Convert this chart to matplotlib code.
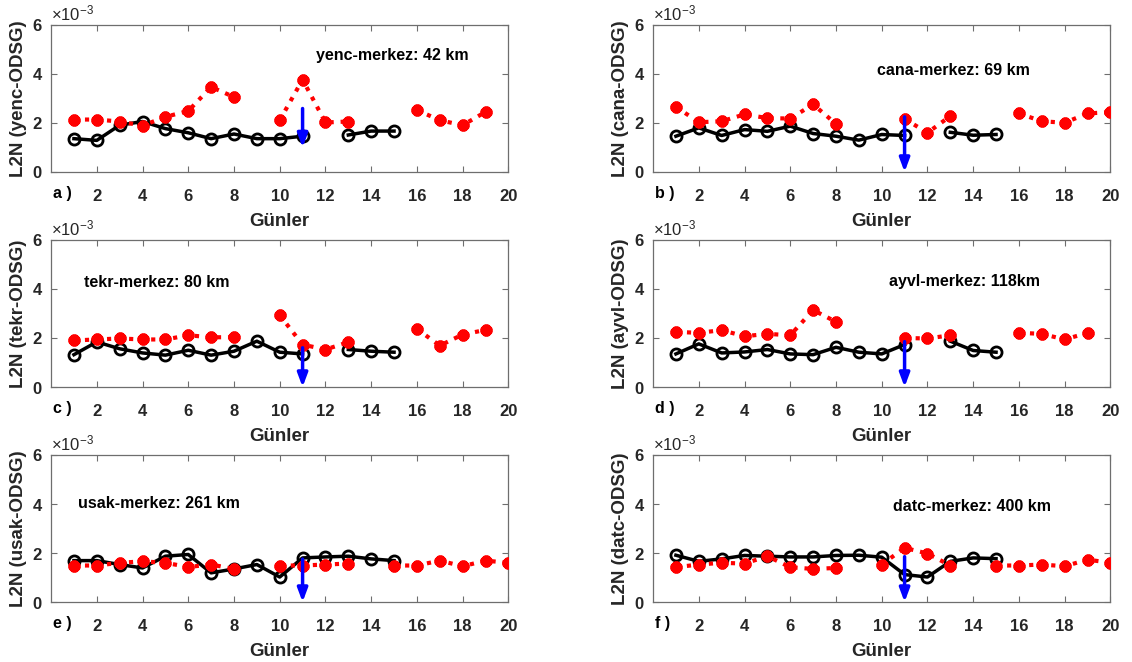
import numpy as np
import matplotlib
matplotlib.use('Agg')
import matplotlib.pyplot as plt
from matplotlib.ticker import ScalarFormatter

plt.rcParams['font.family'] = ['Liberation Sans', 'DejaVu Sans']
plt.rcParams['mathtext.default'] = 'regular'

nan = np.nan
SCALE = 1e-3  # values below are read in units of 1e-3

days = list(range(1, 21))

black_a = [1.36, 1.29, 1.91, 2.06, 1.77, 1.60, 1.36, 1.55, 1.36, 1.36, 1.46, nan, 1.51, 1.67, 1.67, nan, nan, nan, nan, nan]
red_a = [2.14, 2.14, 2.06, 1.89, 2.25, 2.49, 3.47, 3.06, nan, 2.11, 3.77, 2.02, 2.06, nan, nan, 2.53, 2.11, 1.91, 2.45, nan]
black_b = [1.46, 1.80, 1.49, 1.73, 1.66, 1.87, 1.57, 1.46, 1.30, 1.53, 1.49, nan, 1.62, 1.50, 1.53, nan, nan, nan, nan, nan]
red_b = [2.66, 2.03, 2.07, 2.35, 2.20, 2.18, 2.76, 1.96, nan, nan, 2.17, 1.60, 2.28, nan, nan, 2.39, 2.07, 2.01, 2.39, 2.44]
black_c = [1.32, 1.84, 1.56, 1.39, 1.30, 1.50, 1.30, 1.46, 1.87, 1.42, 1.35, nan, 1.53, 1.46, 1.42, nan, nan, nan, nan, nan]
red_c = [1.90, 1.94, 1.98, 1.94, 1.94, 2.11, 2.03, 2.03, nan, 2.93, 1.73, 1.53, 1.83, nan, nan, 2.37, 1.69, 2.14, 2.33, nan]
black_d = [1.35, 1.76, 1.39, 1.43, 1.53, 1.35, 1.32, 1.62, 1.42, 1.35, 1.73, nan, 1.87, 1.49, 1.42, nan, nan, nan, nan, nan]
red_d = [2.25, 2.21, 2.32, 2.07, 2.17, 2.11, 3.14, 2.66, nan, nan, 2.00, 1.98, 2.11, nan, nan, 2.21, 2.17, 1.94, 2.21, nan]
black_e = [1.69, 1.69, 1.53, 1.39, 1.87, 1.94, 1.19, 1.35, 1.53, 1.02, 1.80, 1.84, 1.87, 1.76, 1.69, nan, nan, nan, nan, nan]
red_e = [1.49, 1.49, 1.60, 1.66, 1.60, 1.43, 1.53, 1.35, nan, 1.49, 1.49, 1.53, 1.57, nan, 1.49, 1.49, 1.69, 1.46, 1.69, 1.60]
black_f = [1.91, 1.66, 1.76, 1.90, 1.87, 1.84, 1.84, 1.90, 1.91, 1.83, 1.12, 1.02, 1.66, 1.80, 1.77, nan, nan, nan, nan, nan]
red_f = [1.42, 1.53, 1.60, 1.57, 1.87, 1.42, 1.35, 1.39, nan, 1.53, 2.21, 1.98, 1.49, nan, 1.49, 1.49, 1.53, 1.46, 1.73, 1.60]

stations = ['yenc', 'cana', 'tekr', 'ayvl', 'usak', 'datc']
distances = ['42 km', '69 km', '80 km', '118km', '261 km', '400 km']
letters = ['a', 'b', 'c', 'd', 'e', 'f']
blacks = [black_a, black_b, black_c, black_d, black_e, black_f]
reds = [red_a, red_b, red_c, red_d, red_e, red_f]
arrow_top = [2.59, 2.25, 1.60, 1.85, 1.75, 1.85]
arrow_day = 11
ymins = [1.0, 0, 0, 0, 0, 0]
text_pos = [(11.6, 4.75), (9.8, 4.15), (1.45, 4.25), (10.3, 4.3), (1.2, 4.02), (10.5, 3.9)]

fig = plt.figure(figsize=(11.32, 6.62), dpi=100)
lefts = [0.0451, 0.5769]
bottoms = [0.7402, 0.4154, 0.0906]
W, H = 0.4040, 0.2221

axc = '#6e6e6e'
tc = '#262626'
for i in range(6):
    ax = fig.add_axes([lefts[i % 2], bottoms[i // 2], W, H])
    b = np.array(blacks[i]) * SCALE
    r = np.array(reds[i]) * SCALE
    ax.plot(days, b, '-o', color='black', lw=2.5, ms=8, mfc='none', mew=2.0, zorder=3)
    ax.plot(days, r, ':', color='red', lw=3, marker=(8, 2, 0), ms=8.5, mew=3, zorder=4)
    ax.annotate('', xy=(arrow_day, ymins[i] * SCALE), xytext=(arrow_day, arrow_top[i] * SCALE),
                arrowprops=dict(arrowstyle='-|>,head_length=0.8,head_width=0.3', color='blue', lw=2.5,
                                shrinkA=0, shrinkB=0), zorder=5)
    ax.set_xlim(0, 20)
    ax.set_ylim(ymins[i] * SCALE, 6 * SCALE)
    ax.set_xticks(range(2, 21, 2))
    ax.set_yticks(np.array([0, 2, 4, 6]) * SCALE)
    fmt = ScalarFormatter(useMathText=True)
    fmt.set_powerlimits((-3, -3))
    ax.yaxis.set_major_formatter(fmt)
    ax.yaxis.get_offset_text().set_fontsize(12)
    ax.yaxis.get_offset_text().set_color(tc)
    ax.tick_params(direction='in', top=True, right=True, length=4, width=0.8, color=axc,
                   labelsize=12, labelcolor=tc)
    ax.tick_params(axis='x', pad=12)
    ax.tick_params(axis='y', pad=6)
    for lab in ax.get_xticklabels() + ax.get_yticklabels():
        lab.set_fontweight('bold')
    for sp in ax.spines.values():
        sp.set_color(axc)
        sp.set_linewidth(0.9)
    ax.set_xlabel('Günler', fontsize=13.5, fontweight='bold', color=tc, labelpad=7)
    ax.set_ylabel('L2N (' + stations[i] + '-ODSG)', fontsize=13.5, fontweight='bold', color=tc, labelpad=3)
    ax.text(text_pos[i][0], text_pos[i][1] * SCALE, stations[i] + '-merkez: ' + distances[i],
            fontsize=11.5, fontweight='bold', color='black', va='center', ha='left')
    ax.text(0.004, -0.145, letters[i] + ' )', transform=ax.transAxes, fontsize=11.5,
            fontweight='bold', color='black', va='center', ha='left')

fig.savefig('out.png', dpi=100)
